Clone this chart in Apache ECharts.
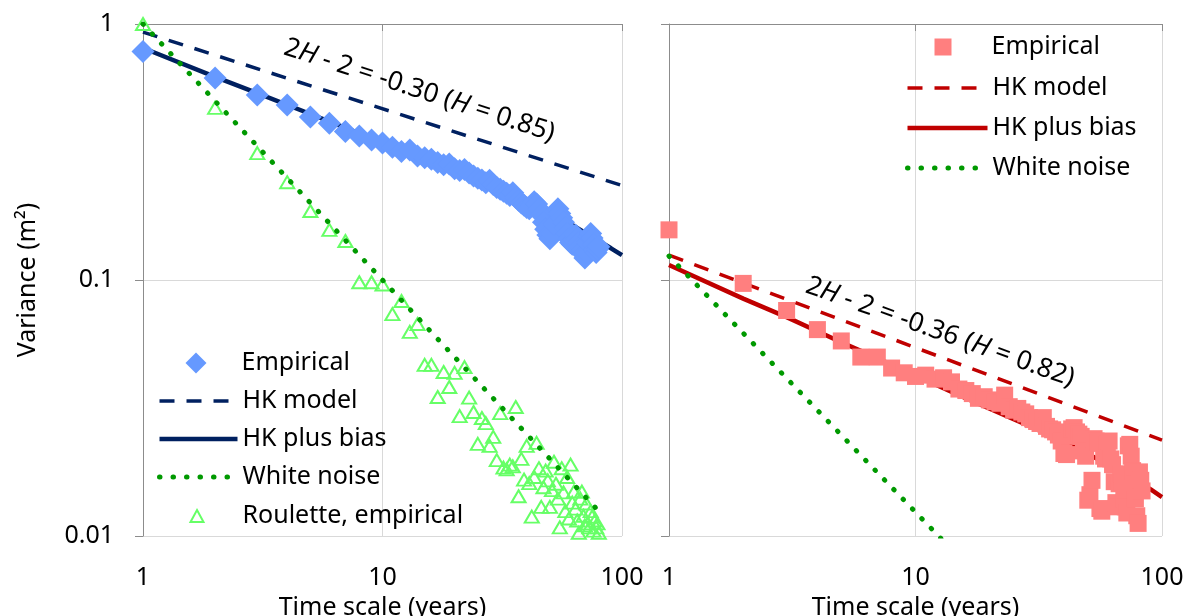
<!DOCTYPE html>
<html>
<head>
<meta charset="utf-8">
<script src="https://cdn.jsdelivr.net/npm/echarts@6/dist/echarts.min.js"></script>
<style>html,body{margin:0;padding:0;background:#fff;}#c{width:1193px;height:616px;}</style>
</head>
<body>
<div id="c"></div>
<script>
// ---------- data ----------
const xTicks = [1, 10, 100];
const yTicks = [0.01, 0.1, 1];

const leftScales = [1,2,3,4,5,6,7,8,9,10,11,12,13,14,15,16,17,18,19,20,21,22,23,24,25,26,27,28,29,30,31,32,33,34,35,36,37,38,39,40,41,42,43,44,45,46,47,48,49,50,51,52,53,54,55,56,57,58,59,60,61,62,63,64,65,66,67,68,69,70,71,72,73,74,75,76,77,78,79,80];
const leftEmpirical = [0.78,0.615,0.528,0.483,0.433,0.410,0.380,0.365,0.352,0.343,0.330,0.318,0.322,0.305,0.300,0.296,0.288,0.282,0.284,0.272,0.268,0.270,0.262,0.255,0.250,0.246,0.240,0.245,0.236,0.230,0.226,0.222,0.218,0.214,0.219,0.210,0.205,0.200,0.196,0.192,0.190,0.196,0.202,0.198,0.190,0.180,0.168,0.158,0.150,0.145,0.152,0.165,0.185,0.190,0.182,0.175,0.168,0.160,0.152,0.145,0.140,0.138,0.143,0.150,0.145,0.140,0.135,0.130,0.126,0.122,0.128,0.140,0.148,0.152,0.146,0.138,0.132,0.128,0.132,0.135];
const rouletteEmpirical = [1.0,0.47,0.313,0.241,0.186,0.157,0.142,0.098,0.098,0.096,0.0736,0.0828,0.0627,0.0673,0.0466,0.0466,0.0349,0.0437,0.0382,0.0434,0.0294,0.0457,0.0347,0.0305,0.0229,0.0289,0.0276,0.0225,0.0244,0.0198,0.0302,0.0185,0.0182,0.0190,0.0187,0.0319,0.0143,0.0200,0.0166,0.0225,0.0161,0.0119,0.0170,0.0231,0.0184,0.0130,0.0155,0.0180,0.0165,0.0130,0.0151,0.0195,0.0160,0.0140,0.0108,0.0184,0.0148,0.0125,0.0170,0.0117,0.0190,0.0135,0.0149,0.0128,0.0115,0.0103,0.0140,0.0149,0.0120,0.0110,0.0134,0.0112,0.0108,0.0125,0.0119,0.0105,0.0115,0.0108,0.0112,0.0103];

const rightScales = [1,2,3,4,5,6,7,8,9,10,11,12,13,14,15,16,17,18,19,20,21,22,23,24,25,26,27,28,29,30,31,32,33,34,35,36,37,38,39,40,41,42,43,44,45,46,47,48,49,50,51,52,53,54,55,56,57,58,59,60,61,62,63,64,65,66,67,68,69,70,71,72,73,74,75,76,77,78,79,80,81,82,83];
const rightEmpirical = [0.157,0.097,0.076,0.064,0.0578,0.050,0.050,0.0453,0.0434,0.042,0.0425,0.041,0.0415,0.040,0.0375,0.037,0.036,0.0345,0.035,0.034,0.0335,0.033,0.0355,0.032,0.031,0.0315,0.0305,0.030,0.029,0.0285,0.028,0.0275,0.029,0.0268,0.0262,0.026,0.0255,0.0248,0.0235,0.021,0.0208,0.0245,0.0262,0.0265,0.0255,0.025,0.0245,0.0215,0.0205,0.0138,0.0145,0.0165,0.0240,0.0235,0.0230,0.0128,0.0125,0.0205,0.0200,0.0228,0.0235,0.0200,0.0190,0.0163,0.0135,0.0130,0.0160,0.0175,0.0162,0.0140,0.0130,0.0123,0.0225,0.0228,0.0205,0.0180,0.0160,0.0140,0.0120,0.0112,0.0178,0.0165,0.0150];

const hkModelLeftX = [1, 100];
const hkModelLeftY = [0.93, 0.234];
const hkBiasLeftX = [1,2,3,5,7,10,15,20,30,40,50,60,70,80,90,100];
const hkBiasLeftY = [0.806,0.622,0.537,0.445,0.393,0.344,0.298,0.268,0.228,0.202,0.183,0.167,0.153,0.142,0.133,0.125];
const whiteLeftX = [1, 80];
const whiteLeftY = [1.0, 0.0125];

const hkModelRightX = [1, 100];
const hkModelRightY = [0.125, 0.0237];
const hkBiasRightX = [1,2,3,5,7,10,15,20,30,40,50,60,70,80,90,100];
const hkBiasRightY = [0.1145,0.0846,0.0716,0.0571,0.0495,0.0424,0.0355,0.0314,0.0265,0.0233,0.0209,0.0191,0.0176,0.0163,0.0152,0.0142];
const whiteRightX = [1, 80];
const whiteRightY = [0.124, 0.00155];

const seriesNamesLeft = ['Empirical', 'HK model', 'HK plus bias', 'White noise', 'Roulette, empirical'];
const seriesNamesRight = ['Empirical', 'HK model', 'HK plus bias', 'White noise'];
const annotations = [
  {grid: 0, k: 14.26, v: 0.55, pre: '2', post: ' - 2 = -0.30 (', post2: ' = 0.85)', angle: 18},
  {grid: 1, k: 12.58, v: 0.0626, pre: '2', post: ' - 2 = -0.36 (', post2: ' = 0.82)', angle: 19.5}
];
// ---------- build ----------
const FONT = '"Noto Sans", "Open Sans", sans-serif';
const FS = 25;
const zip = (a, b) => a.map((x, i) => [x, b[i]]);
const R = ' \u200b'; // suffix to distinguish right-panel legend names
const DARK = '#002060', RED = '#C00000', GREEN = '#009900';
const AX = '#8c8c8c', GRID = '#d9d9d9';

function xAxes(g) {
  return [
    {gridIndex: g, type: 'log', logBase: 10, min: xTicks[0], max: xTicks[2], position: 'top',
     axisLine: {show: true, onZero: false, lineStyle: {color: AX, width: 1}},
     axisTick: {show: true, inside: true, length: 7, lineStyle: {color: AX}},
     axisLabel: {show: false}, splitLine: {show: false}},
    {gridIndex: g, type: 'log', logBase: 10, min: xTicks[0], max: xTicks[2], position: 'bottom',
     axisLine: {show: false, onZero: false}, axisTick: {show: false},
     axisLabel: {margin: 29, fontSize: FS, color: '#000', fontFamily: FONT},
     splitLine: {show: true, lineStyle: {color: GRID, width: 1}},
     name: 'Time scale (years)', nameLocation: 'middle', nameGap: 56,
     nameTextStyle: {fontSize: FS, color: '#000', fontFamily: FONT}}
  ];
}
function yAxis(g, showLabel) {
  const a = {gridIndex: g, type: 'log', logBase: 10, min: yTicks[0], max: yTicks[2],
    axisLine: {show: true, onZero: false, lineStyle: {color: AX, width: 1}},
    axisTick: {show: true, length: 8, lineStyle: {color: AX}},
    axisLabel: {show: showLabel, margin: 29, fontSize: FS, color: '#000', fontFamily: FONT},
    splitLine: {show: true, lineStyle: {color: GRID, width: 1}}};
  if (showLabel) {
    a.name = 'Variance (m\u00b2)'; a.nameLocation = 'middle'; a.nameGap = 103;
    a.nameTextStyle = {fontSize: FS, color: '#000', fontFamily: FONT};
  }
  return a;
}
const dashed = [15, 12];
const dotted = [0.5, 13];
const txt = {fontSize: FS, lineHeight: 28, color: '#000', fontFamily: FONT};
const legBase = {orient: 'vertical', selectedMode: false, lineStyle: {width: 'inherit'}};

const option = {
  animation: false,
  textStyle: {fontFamily: FONT},
  grid: [
    {left: 143, top: 24, width: 479, height: 512, containLabel: false, outerBoundsMode: 'none'},
    {left: 669, top: 24, width: 493, height: 512, containLabel: false, outerBoundsMode: 'none'}
  ],
  xAxis: [...xAxes(0), ...xAxes(1)],
  yAxis: [yAxis(0, true), yAxis(1, false)],
  legend: [
    Object.assign({}, legBase, {left: 180.5, top: 344, itemWidth: 21, itemHeight: 21,
      textStyle: Object.assign({}, txt, {padding: [0, 0, 0, 30]}), data: [seriesNamesLeft[0]]}),
    Object.assign({}, legBase, {left: 152, top: 382, itemWidth: 78, itemHeight: 14, itemGap: 10,
      textStyle: txt, data: seriesNamesLeft.slice(1, 4)}),
    Object.assign({}, legBase, {left: 184.5, top: 497, itemWidth: 13, itemHeight: 12,
      textStyle: Object.assign({}, txt, {padding: [0, 0, 0, 34]}), data: [seriesNamesLeft[4]]}),
    Object.assign({}, legBase, {left: 929.5, top: 28, itemWidth: 17, itemHeight: 17,
      textStyle: Object.assign({}, txt, {padding: [0, 0, 0, 35]}),
      formatter: n => n.replace(R, ''), data: [seriesNamesRight[0] + R]}),
    Object.assign({}, legBase, {left: 900, top: 69, itemWidth: 80, itemHeight: 14, itemGap: 12,
      textStyle: txt, formatter: n => n.replace(R, ''), data: seriesNamesRight.slice(1).map(n => n + R)})
  ],
  series: [
    {name: seriesNamesLeft[1], type: 'line', xAxisIndex: 1, yAxisIndex: 0, symbol: 'none', z: 2,
     lineStyle: {color: DARK, width: 3.5, type: dashed}, itemStyle: {color: DARK, opacity: 0},
     data: zip(hkModelLeftX, hkModelLeftY)},
    {name: seriesNamesLeft[2], type: 'line', xAxisIndex: 1, yAxisIndex: 0, symbol: 'none', z: 2,
     lineStyle: {color: DARK, width: 4.5}, itemStyle: {color: DARK, opacity: 0},
     data: zip(hkBiasLeftX, hkBiasLeftY)},
    {name: seriesNamesLeft[0], type: 'scatter', xAxisIndex: 1, yAxisIndex: 0, symbol: 'diamond', symbolSize: 23, clip: false, z: 3,
     itemStyle: {color: '#6699FF', opacity: 1}, data: zip(leftScales, leftEmpirical)},
    {name: seriesNamesLeft[4], type: 'scatter', xAxisIndex: 1, yAxisIndex: 0, symbol: 'triangle', symbolSize: [14, 12], clip: false, z: 3,
     itemStyle: {color: 'rgba(255,255,255,0)', borderColor: '#66FF66', borderWidth: 2, opacity: 1},
     data: zip(leftScales, rouletteEmpirical)},
    {name: seriesNamesLeft[3], type: 'line', xAxisIndex: 1, yAxisIndex: 0, symbol: 'none', z: 4,
     lineStyle: {color: GREEN, width: 5, type: dotted, cap: 'round'}, itemStyle: {color: GREEN, opacity: 0},
     data: zip(whiteLeftX, whiteLeftY)},

    {name: seriesNamesRight[1] + R, type: 'line', xAxisIndex: 3, yAxisIndex: 1, symbol: 'none', z: 2,
     lineStyle: {color: RED, width: 3.5, type: dashed}, itemStyle: {color: RED, opacity: 0},
     data: zip(hkModelRightX, hkModelRightY)},
    {name: seriesNamesRight[2] + R, type: 'line', xAxisIndex: 3, yAxisIndex: 1, symbol: 'none', z: 2,
     lineStyle: {color: RED, width: 4.5}, itemStyle: {color: RED, opacity: 0},
     data: zip(hkBiasRightX, hkBiasRightY)},
    {name: seriesNamesRight[0] + R, type: 'scatter', xAxisIndex: 3, yAxisIndex: 1, symbol: 'rect', symbolSize: 17, clip: false, z: 3,
     itemStyle: {color: '#FF7F7F', opacity: 1}, data: zip(rightScales, rightEmpirical)},
    {name: seriesNamesRight[3] + R, type: 'line', xAxisIndex: 3, yAxisIndex: 1, symbol: 'none', z: 4,
     lineStyle: {color: GREEN, width: 5, type: dotted, cap: 'round'}, itemStyle: {color: GREEN, opacity: 0},
     data: zip(whiteRightX, whiteRightY)}
  ]
};

const chart = echarts.init(document.getElementById('c'), null, {renderer: 'canvas'});
chart.setOption(option);

const graphics = annotations.map(a => {
  const p = chart.convertToPixel({xAxisIndex: a.grid * 2 + 1, yAxisIndex: a.grid}, [a.k, a.v]);
  return {
    type: 'text', x: p[0], y: p[1], rotation: -a.angle * Math.PI / 180, z: 10,
    style: {
      text: '{n|' + a.pre + '}{i|H}{n|' + a.post + '}{i|H}{n|' + a.post2 + '}',
      align: 'center', verticalAlign: 'middle',
      rich: {
        n: {fontSize: 26.5, fontFamily: FONT, fill: '#000'},
        i: {fontSize: 26.5, fontFamily: FONT, fontStyle: 'italic', fill: '#000'}
      }
    }
  };
});
chart.setOption({graphic: graphics});
</script>
</body>
</html>
